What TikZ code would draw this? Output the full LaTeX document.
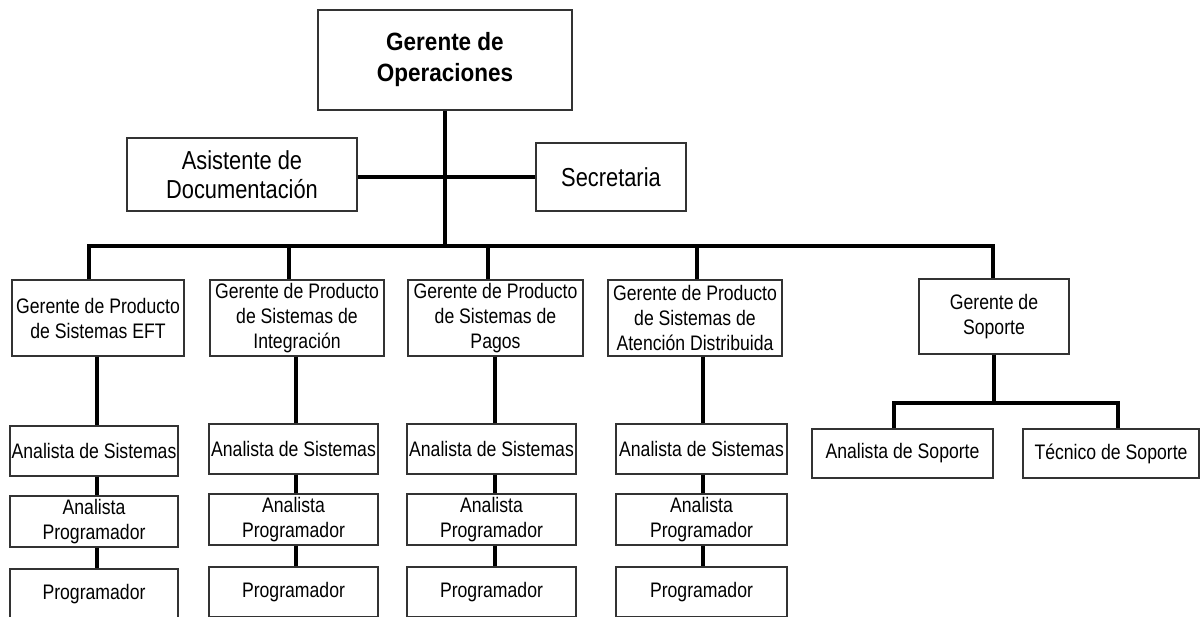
\documentclass[tikz,border=0pt]{standalone}
\usepackage{fontspec}
\setmainfont{Liberation Sans}[FakeStretch=0.84]
\newfontfamily\headfont{Liberation Sans}[FakeStretch=0.9]
\begin{document}
\begin{tikzpicture}[x=1pt,y=-1pt,
  box/.style={draw=black!80, line width=1.2pt, fill=white, inner sep=0pt,
              align=center, font=\fontsize{21}{25}\selectfont},
  bigbox/.style={box, font=\fontsize{26}{29}\selectfont},
  link/.style={line width=4pt, black},
]
\useasboundingbox (0,0) rectangle (1200,617);
\fill[white] (0,0) rectangle (1200,617);

% top of the chart
\node[box, minimum width=254pt, minimum height=100pt,
      font=\headfont\bfseries\fontsize{25}{31}\selectfont] (top) at (445,60) {Gerente de\\Operaciones};
\node[bigbox, minimum width=230pt, minimum height=73pt] (asis) at (242,174.5) {Asistente de\\Documentación};
\node[bigbox, minimum width=150pt, minimum height=68pt] (secr) at (611,177) {Secretaria};

% product and support managers
\node[box, minimum width=172pt, minimum height=76pt] (g1) at (98,318) {Gerente de Producto\\de Sistemas EFT};
\node[box, minimum width=174pt, minimum height=76pt] (g2) at (297,318) {Gerente de Producto\\de Sistemas de\\Integración};
\node[box, minimum width=175pt, minimum height=76pt] (g3) at (495.5,318) {Gerente de Producto\\de Sistemas de\\Pagos};
\node[box, minimum width=174pt, minimum height=76pt] (g4) at (695,318) {Gerente de Producto\\de Sistemas de\\Atención Distribuida};
\node[box, minimum width=150pt, minimum height=75pt] (g5) at (994,316.5) {Gerente de\\Soporte};

% support staff
\node[box, minimum width=181pt, minimum height=49pt] (asr) at (902.5,453.5) {Analista de Soporte};
\node[box, minimum width=176pt, minimum height=49pt] (tec) at (1111,453.5) {Técnico de Soporte};

% bus from the top box to the managers
\coordinate (b1) at (89,246);
\coordinate (b2) at (289,246);
\coordinate (b3) at (488,246);
\coordinate (b4) at (697,246);
\coordinate (b5) at (993,246);
\draw[link] (g1.north -| b1) -- (b1) -- (b5) -- (g5.north -| b5);
\draw[link] (b2) -- (g2.north -| b2);
\draw[link] (b3) -- (g3.north -| b3);
\draw[link] (b4) -- (g4.north -| b4);
\draw[link] (top.south) -- (top.south |- b1);
\draw[link] (asis.east |- secr.west) -- (secr.west);

% support branch
\coordinate (s1) at (894,403);
\coordinate (s2) at (1118,403);
\draw[link] (asr.north -| s1) -- (s1) -- (s2) -- (tec.north -| s2);
\draw[link] (g5.south) -- (g5.south |- s1);

% analyst / programmer columns
\foreach \i/\cx/\lx/\dy/\w in {1/94/97/2/168, 2/293.5/296/0/169, 3/491.5/495/0/169, 4/701.5/703/0/171}{
  \node[box, minimum width=\w pt, minimum height=50pt] (as\i) at (\cx,449+\dy) {Analista de Sistemas};
  \node[box, minimum width=\w pt, minimum height=51pt] (ap\i) at (\cx,519.5+\dy) {Analista\\Programador};
  \node[box, minimum width=\w pt, minimum height=50pt] (pr\i) at (\cx,592+\dy) {Programador};
  \coordinate (c\i) at (\lx,0);
  \draw[link] (g\i.south -| c\i) -- (as\i.north -| c\i);
  \draw[link] (as\i.south -| c\i) -- (ap\i.north -| c\i);
  \draw[link] (ap\i.south -| c\i) -- (pr\i.north -| c\i);
}
\end{tikzpicture}
\end{document}
